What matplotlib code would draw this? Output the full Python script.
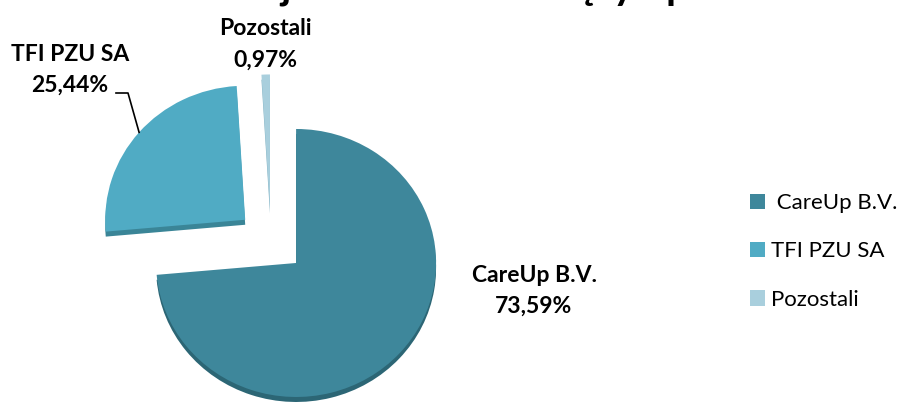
import matplotlib.pyplot as plt
import numpy as np

plt.rcParams['font.family'] = ['Lato', 'DejaVu Sans']

# data
labels = ["CareUp B.V.", "TFI PZU SA", "Pozostali"]
shares = [73.59, 25.44, 0.97]
legend_labels = [" CareUp B.V.", "TFI PZU SA", "Pozostali"]
title = "Akcjonariusze znaczący Spółki"

colors = ["#3E879B", "#50ABC4", "#A9CFDD"]
side_colors = ["#2C6675", "#3A8597", "#86B4C4"]

W, H = 909, 403
CX, CY = 271, 241      # pie centre in pixels
RX, RY = 140, 134      # pixels per data unit (slight tilt)


def px(x, y):
    """pixel position -> data coords"""
    return (x - CX) / RX, (CY - y) / RY


fig = plt.figure(figsize=(W / 100, H / 100), dpi=100)
ax = fig.add_axes([0, 0, 1, 1])

explode = [0.243] * len(shares)

# darker copy a few px lower acts as the 3d side
ax.pie(shares, explode=explode, colors=side_colors, startangle=90,
       counterclock=False, radius=1, center=(0, -5 / RY),
       wedgeprops=dict(linewidth=0))
wedges, _ = ax.pie(shares, explode=explode, colors=colors, startangle=90,
                   counterclock=False, radius=1, center=(0, 0),
                   wedgeprops=dict(linewidth=0))

ax.set_aspect('auto')
ax.set_xlim(px(0, 0)[0], px(W, 0)[0])
ax.set_ylim(px(0, H)[1], px(0, 0)[1])
ax.axis('off')

pct = [f"{s:.2f}".replace(".", ",") + "%" for s in shares]
lab_kw = dict(fontsize=16.5, fontweight='bold', ha='center', va='baseline',
              color='black')

# label positions (pixels, baselines)
lab_pos = [(534, 282, 313), (70, 61, 92), (265, 35, 67)]
for name, p, (x, y1, y2) in zip(labels, pct, lab_pos):
    ax.text(*px(x, y1), name, **lab_kw)
    ax.text(*px(x, y2), p, **lab_kw)

# leader line for TFI PZU SA
w = wedges[1]
tm = np.deg2rad((w.theta1 + w.theta2) / 2)
tip = (w.center[0] + w.r * np.cos(tm), w.center[1] + w.r * np.sin(tm))
e1 = px(116, 93)
e2 = px(128, 93)
ax.plot([e1[0], e2[0], tip[0]], [e1[1], e2[1], tip[1]], color='black', lw=1.2)

# title, mostly cut off by the top edge
fig.text(485 / W, 1 + 2 / H, title, fontsize=29, fontweight='bold',
         ha='center', va='baseline')

ax.legend(wedges, legend_labels, loc='upper left',
          bbox_to_anchor=(750 / W, 1 - 193 / H), bbox_transform=fig.transFigure,
          frameon=False, fontsize=16, handlelength=0.68, handleheight=0.68,
          handletextpad=0.28, labelspacing=1.28, borderpad=0, borderaxespad=0)

fig.savefig("out.png", dpi=100)
